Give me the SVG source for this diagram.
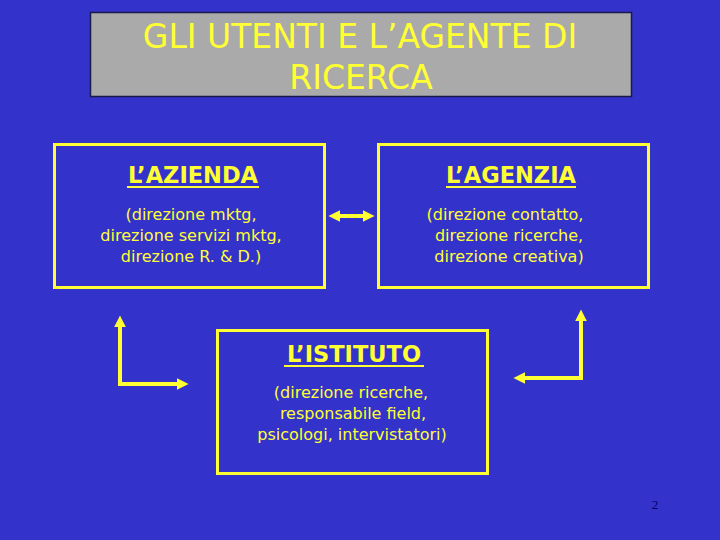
<svg xmlns="http://www.w3.org/2000/svg" width="720" height="540" viewBox="0 0 720 540">
<defs>
<style>
.bg{fill:#3333CC}
.box{fill:none;stroke:#FFFF33;stroke-width:3}
.title{fill:#FFFF33;font-family:"DejaVu Sans",Verdana,sans-serif;font-size:33px;text-anchor:middle}
.head{fill:#FFFF33;font-family:"DejaVu Sans",Verdana,sans-serif;font-size:22.5px;font-weight:bold;text-anchor:middle}
.body{fill:#FFFF33;font-family:"DejaVu Sans",Verdana,sans-serif;font-size:16px;text-anchor:middle}
.ul{stroke:#FFFF33;stroke-width:2}
.conn{fill:none;stroke:#FFFF33;stroke-width:4}
</style>
<marker id="ah" viewBox="0 0 10 10" refX="2" refY="5" markerWidth="3" markerHeight="3" orient="auto-start-reverse" markerUnits="strokeWidth">
<path d="M0,0 L10,5 L0,10 Z" fill="#FFFF33"/>
</marker>
</defs>
<rect class="bg" x="0" y="0" width="720" height="540"/>
<g id="title">
<rect x="90.5" y="12.5" width="541" height="84" fill="#AAAAAA" stroke="#1A1A4A" stroke-width="1.5"/>
<text class="title" x="360" y="48">GLI UTENTI E L’AGENTE DI</text>
<text class="title" x="361" y="89">RICERCA</text>
</g>
<g id="azienda">
<rect class="box" x="54.5" y="144.5" width="270" height="143"/>
<text class="head" x="193" y="183">L’AZIENDA</text>
<line class="ul" x1="127" y1="187" x2="259" y2="187"/>
<text class="body" x="191" y="220">(direzione mktg,</text>
<text class="body" x="191" y="241">direzione servizi mktg,</text>
<text class="body" x="191" y="262">direzione R. &amp; D.)</text>
</g>
<g id="agenzia">
<rect class="box" x="378.5" y="144.5" width="270" height="143"/>
<text class="head" x="511" y="183">L’AGENZIA</text>
<line class="ul" x1="446" y1="187" x2="576" y2="187"/>
<text class="body" x="505" y="220">(direzione contatto,</text>
<text class="body" x="509" y="241">direzione ricerche,</text>
<text class="body" x="509" y="262">direzione creativa)</text>
</g>
<g id="istituto">
<rect class="box" x="217.5" y="330.5" width="270" height="143"/>
<text class="head" x="354" y="362">L’ISTITUTO</text>
<line class="ul" x1="284" y1="366" x2="424" y2="366"/>
<text class="body" x="351" y="398">(direzione ricerche,</text>
<text class="body" x="353" y="419">responsabile field,</text>
<text class="body" x="352" y="440">psicologi, intervistatori)</text>
</g>
<g id="connectors">
<line class="conn" x1="338" y1="216" x2="365" y2="216" marker-start="url(#ah)" marker-end="url(#ah)"/>
<polyline class="conn" points="120,325 120,384 179,384" marker-start="url(#ah)" marker-end="url(#ah)"/>
<polyline class="conn" points="581,319 581,378 523,378" marker-start="url(#ah)" marker-end="url(#ah)"/>
</g>
<text x="655" y="509" fill="#000066" font-family="'Liberation Serif',serif" font-size="13" text-anchor="middle">2</text>
</svg>
